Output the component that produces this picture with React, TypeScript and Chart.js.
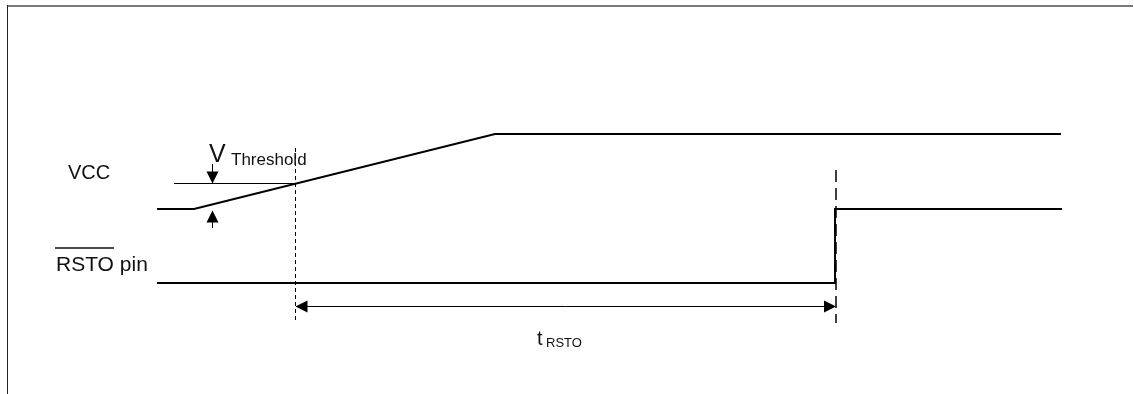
import React, { useEffect, useRef } from "react";
import { Chart, registerables } from "chart.js";

Chart.register(...registerables);

// Diagram units: x = time (arbitrary units), y = level position (arbitrary units, top = 0)
const vccX = [157, 194, 495, 1061];
const vccY = [209, 209, 134, 134];
const rstoX = [157, 835, 835, 1062];
const rstoY = [283, 283, 209, 209];
const thresholdX = [174, 295];
const thresholdY = [183.5, 183.5];
const markerAX = [295.5, 295.5];
const markerAY = [148, 323];
const markerBX = [836, 836];
const markerBY = [170, 323];
const tRstoX = [296, 835];
const tRstoY = [306.5, 306.5];
const downStemX = [212.5, 212.5];
const downStemY = [164, 183];
const upStemX = [212.5, 212.5];
const upStemY = [211, 228];

// arrowheads: tip x, tip y, direction
const arrowTipX = [212.5, 212.5, 295.5, 836];
const arrowTipY = [183.5, 210.5, 306.5, 306.5];
const arrowDir = ["down", "up", "left", "right"];

// labels
const labelText = ["VCC", "RSTO pin", "V", "Threshold", "t", "RSTO"];
const labelX = [68, 56, 209, 231, 537, 546];
const labelY = [179, 271, 162, 165, 345, 347];
const labelSize = [20, 21, 25, 17, 20, 13];

const pts = (xs: number[], ys: number[]) => xs.map((x, i) => ({ x, y: ys[i] }));

const diagramPlugin = {
  id: "diagram",
  afterDatasetsDraw(chart: any) {
    const { ctx, scales } = chart;
    const sx = scales.x;
    const sy = scales.y;
    ctx.save();
    // frame
    ctx.strokeStyle = "#7a7a7a";
    ctx.lineWidth = 2;
    ctx.beginPath();
    ctx.moveTo(sx.getPixelForValue(7), sy.getPixelForValue(6));
    ctx.lineTo(sx.getPixelForValue(1133), sy.getPixelForValue(6));
    ctx.stroke();
    ctx.strokeStyle = "#222";
    ctx.lineWidth = 1;
    ctx.beginPath();
    ctx.moveTo(sx.getPixelForValue(7.5), sy.getPixelForValue(5));
    ctx.lineTo(sx.getPixelForValue(7.5), sy.getPixelForValue(394));
    ctx.stroke();

    // arrowheads
    ctx.fillStyle = "#000";
    const len = 12;
    const half = 6;
    arrowTipX.forEach((tx, i) => {
      const px = sx.getPixelForValue(tx);
      const py = sy.getPixelForValue(arrowTipY[i]);
      const d = arrowDir[i];
      ctx.beginPath();
      ctx.moveTo(px, py);
      if (d === "down") {
        ctx.lineTo(px - half, py - len);
        ctx.lineTo(px + half, py - len);
      } else if (d === "up") {
        ctx.lineTo(px - half, py + len);
        ctx.lineTo(px + half, py + len);
      } else if (d === "left") {
        ctx.lineTo(px + len, py - half);
        ctx.lineTo(px + len, py + half);
      } else {
        ctx.lineTo(px - len, py - half);
        ctx.lineTo(px - len, py + half);
      }
      ctx.closePath();
      ctx.fill();
    });

    // labels
    ctx.fillStyle = "#111";
    ctx.textBaseline = "alphabetic";
    ctx.textAlign = "left";
    labelText.forEach((t, i) => {
      ctx.font = `${labelSize[i]}px "Liberation Sans", Arial, sans-serif`;
      ctx.fillText(t, sx.getPixelForValue(labelX[i]), sy.getPixelForValue(labelY[i]));
    });
    // overline on RSTO
    ctx.font = `${labelSize[1]}px "Liberation Sans", Arial, sans-serif`;
    const w = ctx.measureText("RSTO").width;
    ctx.strokeStyle = "#111";
    ctx.lineWidth = 1.5;
    ctx.beginPath();
    const ox = sx.getPixelForValue(labelX[1]) - 1;
    const oy = sy.getPixelForValue(248);
    ctx.moveTo(ox, oy);
    ctx.lineTo(ox + w + 1, oy);
    ctx.stroke();
    ctx.restore();
  },
};

export default function App() {
  const ref = useRef<HTMLCanvasElement | null>(null);
  useEffect(() => {
    if (!ref.current) return;
    const line = (data: any, width: number, dash: number[] = []) => ({
      data,
      showLine: true,
      borderColor: "#000",
      backgroundColor: "#000",
      borderWidth: width,
      borderDash: dash,
      pointRadius: 0,
      fill: false,
      tension: 0,
    });
    const chart = new Chart(ref.current, {
      type: "scatter",
      data: {
        datasets: [
          line(pts(vccX, vccY), 2),
          line(pts(rstoX, rstoY), 2),
          line(pts(thresholdX, thresholdY), 1),
          line(pts(markerAX, markerAY), 1, [4, 3]),
          line(pts(markerBX, markerBY), 1.5, [12, 6]),
          line(pts(tRstoX, tRstoY), 1),
          line(pts(downStemX, downStemY), 1),
          line(pts(upStemX, upStemY), 1),
        ] as any,
      },
      options: {
        animation: false,
        responsive: false,
        maintainAspectRatio: false,
        layout: { padding: 0 },
        plugins: { legend: { display: false }, tooltip: { enabled: false } },
        scales: {
          x: { type: "linear", min: 0, max: 1134, display: false },
          y: { type: "linear", min: 0, max: 394, reverse: true, display: false },
        },
      },
      plugins: [diagramPlugin],
    });
    return () => chart.destroy();
  }, []);
  return (
    <div style={{ position: "absolute", left: 0, top: 0, width: 1134, height: 394, background: "#fff" }}>
      <canvas ref={ref} width={1134} height={394} style={{ display: "block" }} />
    </div>
  );
}
